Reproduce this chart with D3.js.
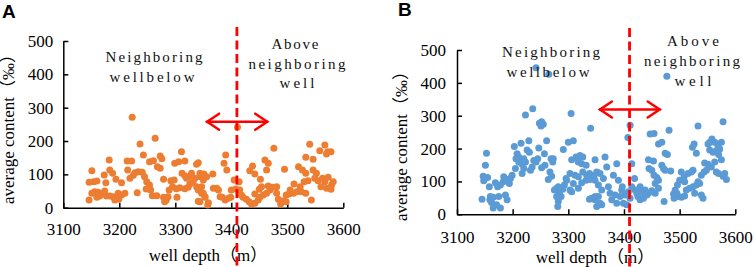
<!DOCTYPE html>
<html>
<head>
<meta charset="utf-8">
<script src="https://cdn.jsdelivr.net/npm/d3@7"></script>
<style>
  body { margin: 0; background: #fff; }
  svg { display: block; }
  .axis path, .axis line { stroke: #000; stroke-width: 1.5px; }
  .axis text { font-family: "Liberation Serif", "Times New Roman", serif; font-size: 17px; fill: #000; }
  .title { font-family: "Liberation Serif", "Noto Sans CJK SC", serif; font-size: 17px; fill: #000; }
  .note { font-family: "Liberation Serif", serif; font-size: 15px; fill: #111; }
  .tag { font-family: "Liberation Sans", Arial, sans-serif; font-size: 19px; font-weight: bold; }
</style>
</head>
<body>
<div id="chart"></div>
<script>
const depthTicks = [3100, 3200, 3300, 3400, 3500, 3600];
const contentTicks = [0, 100, 200, 300, 400, 500];
const boundaryDepth = 3410;
const arrowSpan = [3355, 3466];

// panel A: [well depth, average content]
const pointsA = [
  [3146,23],[3146,76],[3151,111],[3154,78],[3160,80],[3151,43],[3156,48],[3162,46],[3168,43],[3174,50],
  [3165,35],[3160,31],[3177,35],[3183,35],[3189,33],[3195,31],[3192,23],[3199,25],[3204,38],[3210,43],
  [3198,43],[3173,98],[3176,75],[3182,143],[3183,113],[3188,103],[3194,85],[3204,75],[3214,140],[3222,140],
  [3215,113],[3223,271],[3219,88],[3225,97],[3228,105],[3234,108],[3241,106],[3237,191],[3243,158],[3232,45],
  [3245,93],[3249,78],[3254,68],[3254,138],[3261,141],[3264,208],[3268,123],[3273,118],[3273,155],[3276,147],
  [3248,56],[3256,53],[3259,36],[3267,36],[3279,85],[3279,31],[3284,23],[3287,33],[3281,18],[3292,81],
  [3298,83],[3289,53],[3295,63],[3299,133],[3306,138],[3311,168],[3317,140],[3302,57],[3308,60],[3317,57],
  [3323,61],[3303,31],[3312,103],[3317,96],[3320,88],[3324,93],[3329,103],[3335,88],[3326,71],[3332,78],
  [3338,130],[3341,135],[3344,93],[3338,63],[3341,53],[3341,19],[3350,83],[3347,63],[3350,43],[3353,31],
  [3344,103],[3351,101],[3367,101],[3356,93],[3344,18],[3347,43],[3353,33],[3359,15],[3358,8],[3368,58],
  [3374,58],[3377,53],[3380,33],[3384,31],[3389,23],[3395,28],[3399,31],[3400,53],[3390,158],[3387,133],
  [3392,113],[3405,83],[3414,78],[3408,56],[3411,241],[3415,53],[3418,38],[3421,31],[3427,25],[3432,18],
  [3436,11],[3442,13],[3448,23],[3451,31],[3457,38],[3463,43],[3469,53],[3474,61],[3481,63],[3438,125],
  [3433,111],[3442,101],[3452,85],[3450,55],[3442,41],[3454,63],[3466,65],[3460,143],[3466,133],[3463,113],
  [3476,178],[3481,43],[3484,25],[3488,11],[3493,21],[3498,18],[3495,115],[3498,38],[3503,41],[3511,43],
  [3517,48],[3523,63],[3530,78],[3512,71],[3505,53],[3525,48],[3533,43],[3520,123],[3527,113],[3533,103],
  [3537,81],[3533,151],[3546,145],[3540,190],[3543,23],[3546,113],[3552,103],[3549,88],[3555,81],[3563,88],
  [3567,78],[3573,91],[3579,68],[3582,78],[3560,63],[3570,58],[3578,55],[3567,188],[3558,171],[3572,168],
  [3578,168],[3570,161]
];

// panel B: [well depth, average content]
const pointsB = [
  [3145,46],[3153,186],[3151,149],[3147,116],[3150,109],[3155,112],[3158,84],[3148,102],[3160,54],[3159,44],
  [3165,52],[3162,36],[3165,19],[3175,54],[3178,19],[3171,29],[3169,96],[3173,84],[3178,89],[3184,114],
  [3183,99],[3190,106],[3196,109],[3199,119],[3194,94],[3187,59],[3190,44],[3203,206],[3215,216],[3229,224],
  [3226,196],[3230,189],[3208,184],[3211,174],[3214,164],[3206,169],[3220,169],[3223,159],[3217,152],[3211,159],
  [3205,139],[3217,124],[3220,139],[3232,134],[3235,144],[3238,164],[3242,159],[3245,169],[3247,202],[3257,184],
  [3261,224],[3252,142],[3258,149],[3223,302],[3236,321],[3248,277],[3252,282],[3255,274],[3251,269],[3269,169],
  [3273,169],[3272,159],[3267,129],[3264,106],[3270,116],[3275,74],[3279,79],[3282,84],[3284,64],[3279,54],
  [3287,54],[3282,39],[3281,24],[3290,76],[3293,89],[3297,104],[3303,124],[3296,109],[3303,74],[3306,69],
  [3291,197],[3300,219],[3309,224],[3305,307],[3306,166],[3314,174],[3321,179],[3326,174],[3318,159],[3324,154],
  [3332,149],[3340,262],[3348,166],[3312,119],[3318,114],[3326,129],[3333,119],[3338,124],[3342,119],[3346,114],
  [3351,129],[3339,106],[3332,104],[3324,96],[3318,79],[3309,94],[3342,49],[3338,46],[3348,44],[3351,24],
  [3242,446],[3265,426],[3477,420],
  [3411,271],[3407,234],[3414,154],[3419,109],[3414,84],[3420,74],[3408,69],[3402,59],[3399,34],[3405,29],
  [3411,49],[3396,74],[3393,54],[3384,59],[3387,34],[3378,44],[3375,64],[3372,84],[3363,109],[3357,124],
  [3353,127],[3348,104],[3354,89],[3360,74],[3369,144],[3366,174],[3387,154],[3360,29],[3357,34],[3348,54],
  [3354,54],[3381,119],[3390,104],[3397,84],[3447,244],[3454,246],[3462,214],[3468,219],[3481,256],[3474,186],
  [3478,182],[3444,166],[3453,162],[3445,139],[3450,134],[3454,119],[3459,112],[3462,104],[3456,94],[3462,79],
  [3468,149],[3471,139],[3474,134],[3484,132],[3429,84],[3426,74],[3423,64],[3432,69],[3438,74],[3441,59],
  [3435,49],[3429,44],[3425,54],[3444,64],[3450,72],[3456,64],[3472,39],[3489,62],[3492,74],[3496,89],
  [3500,104],[3503,129],[3508,114],[3509,99],[3515,124],[3521,129],[3524,134],[3498,54],[3503,52],[3509,56],
  [3495,64],[3490,49],[3512,74],[3518,79],[3524,84],[3530,89],[3533,99],[3527,64],[3539,59],[3542,49],
  [3536,94],[3530,186],[3523,204],[3526,214],[3533,269],[3539,119],[3544,129],[3548,134],[3551,152],[3557,144],
  [3563,159],[3566,129],[3570,124],[3578,116],[3581,124],[3584,106],[3554,219],[3558,229],[3551,214],[3563,219],
  [3569,209],[3572,199],[3575,219],[3566,194],[3560,189],[3554,196],[3570,182],[3575,166],[3578,282],[3545,156]
];

const svg = d3.select("#chart").append("svg")
  .attr("width", 754)
  .attr("height", 267);

const panels = [
  {
    tag: "A", tagX: 2, tagY: 18,
    points: pointsA, color: "#ED7D31",
    xRange: [63.3, 343.3], yRange: [207.7, 41],
    xPad: 15, yPad: 10,
    yTitle: {x: 14, y: 125}, xTitle: {x: 208, y: 261},
    lineTop: 27, arrowAt: 258,
    notes: [
      {t: "Neighboring", x: 154, y: 62, w: 97},
      {t: "wellbelow", x: 152, y: 82, w: 85},
      {t: "Above", x: 295, y: 49, w: 47},
      {t: "neighboring", x: 297, y: 68.5, w: 97},
      {t: "well", x: 297, y: 87.5, w: 35}
    ]
  },
  {
    tag: "B", tagX: 398, tagY: 16,
    points: pointsB, color: "#5B9BD5",
    xRange: [457, 735.3], yRange: [214.3, 50],
    xPad: 17, yPad: 11,
    yTitle: {x: 407, y: 142}, xTitle: {x: 595, y: 263},
    lineTop: 28, arrowAt: 319,
    notes: [
      {t: "Neighboring", x: 551, y: 57, w: 98},
      {t: "wellbelow", x: 548, y: 77, w: 83},
      {t: "Above", x: 693, y: 46, w: 52},
      {t: "neighboring", x: 692, y: 66, w: 96},
      {t: "well", x: 693, y: 86, w: 37}
    ]
  }
];

panels.forEach(p => {
  const x = d3.scaleLinear().domain([3100, 3600]).range(p.xRange);
  const y = d3.scaleLinear().domain([0, 500]).range(p.yRange);
  const g = svg.append("g");

  g.append("text").attr("class", "tag")
    .attr("x", p.tagX).attr("y", p.tagY).text(p.tag);

  g.append("g")
    .attr("class", "axis")
    .attr("transform", `translate(0,${p.yRange[0]})`)
    .call(d3.axisBottom(x).tickValues(depthTicks).tickFormat(d3.format("d"))
      .tickSize(-5).tickSizeOuter(0).tickPadding(p.xPad))
    .call(a => a.selectAll("text").attr("dy", "0.71em"));

  g.append("g")
    .attr("class", "axis")
    .attr("transform", `translate(${p.xRange[0]},0)`)
    .call(d3.axisLeft(y).tickValues(contentTicks).tickFormat(d3.format("d"))
      .tickSize(-5).tickSizeOuter(0).tickPadding(p.yPad));

  g.append("text").attr("class", "title")
    .attr("text-anchor", "middle")
    .attr("transform", `translate(${p.yTitle.x},${p.yTitle.y})rotate(-90)`)
    .text("average content（‰）");

  g.append("text").attr("class", "title")
    .attr("text-anchor", "middle")
    .attr("x", p.xTitle.x).attr("y", p.xTitle.y)
    .text("well depth（m）");

  g.selectAll("circle")
    .data(p.points)
    .enter()
    .append("circle")
    .attr("cx", d => x(d[0]))
    .attr("cy", d => y(d[1]))
    .attr("r", 3.5)
    .attr("fill", p.color);

  p.notes.forEach(n => {
    g.append("text").attr("class", "note")
      .attr("x", n.x - n.w / 2).attr("y", n.y)
      .attr("textLength", n.w)
      .attr("lengthAdjust", "spacing")
      .text(n.t);
  });

  // boundary between the two wells
  g.append("line")
    .attr("x1", x(boundaryDepth)).attr("x2", x(boundaryDepth))
    .attr("y1", p.lineTop).attr("y2", 267)
    .attr("stroke", "#FF0000")
    .attr("stroke-width", 2.8)
    .attr("stroke-dasharray", "9,4.5");

  const ay = y(p.arrowAt);
  const ax0 = x(arrowSpan[0]), ax1 = x(arrowSpan[1]);
  const arrow = g.append("g")
    .attr("stroke", "#FF0000")
    .attr("stroke-width", 2.5)
    .attr("fill", "none")
    .attr("stroke-linecap", "round");
  arrow.append("line").attr("x1", ax0 + 1).attr("x2", ax1 - 1).attr("y1", ay).attr("y2", ay);
  arrow.append("path").attr("d", `M${ax0 + 13},${ay - 8}L${ax0 + 1},${ay}L${ax0 + 13},${ay + 8}`);
  arrow.append("path").attr("d", `M${ax1 - 13},${ay - 8}L${ax1 - 1},${ay}L${ax1 - 13},${ay + 8}`);
});
</script>
</body>
</html>
